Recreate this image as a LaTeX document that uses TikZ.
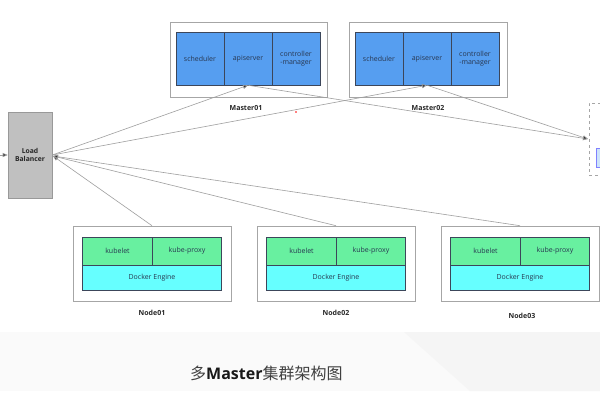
\documentclass[tikz,border=0pt]{standalone}
\usepackage{fontspec}
\setmainfont{Open Sans}
\newfontfamily\cjk{Noto Sans CJK SC}
\usetikzlibrary{arrows.meta}
\definecolor{mblue}{RGB}{86,158,240}
\definecolor{mgreen}{RGB}{104,240,160}
\definecolor{mcyan}{RGB}{102,255,255}
\definecolor{lbgray}{RGB}{192,192,192}
\definecolor{edge}{RGB}{60,70,90}
\definecolor{txt}{RGB}{40,55,80}
\definecolor{lblue}{RGB}{205,228,250}
\tikzset{
  outerbox/.style={draw=gray!70, line width=0.6pt, fill=white, inner sep=0pt},
  cell/.style={draw=edge, line width=0.5pt, inner sep=0pt, align=center, font=\fontsize{7}{8.5}\selectfont, text=txt},
  mcell/.style={cell, fill=mblue, minimum width=48pt, minimum height=53pt},
  kcell/.style={cell, fill=mgreen, minimum height=28pt},
  dcell/.style={cell, fill=mcyan, minimum width=139pt, minimum height=25pt},
  boxlabel/.style={font=\bfseries\fontsize{7}{8}\selectfont, text=black!85},
  conn/.style={draw=gray!75, line width=0.6pt, -{Triangle[length=5pt,width=4pt,fill=black!80]}},
}
\begin{document}
\begin{tikzpicture}[x=1pt,y=-1pt]
\useasboundingbox (0,0) rectangle (600,400);
\path[clip] (0,0) rectangle (600,400);
\fill[white] (0,0) rectangle (600,400);
% bottom band
\fill[gray!4] (0,332) rectangle (600,391);
\fill[gray!8] (404,332) -- (600,332) -- (600,391) -- (470,391) -- cycle;
\node[inner sep=0pt, anchor=west, font=\fontsize{16}{19}\selectfont] (title) at (190,373)
  {{\cjk\color{black!75}多}{\bfseries\color{black!90}Master}{\cjk\color{black!75}集群架构图}};

% Master01
\node[outerbox, minimum width=157pt, minimum height=75pt] (m1) at (248.5,59.5) {};
\node[mcell] (m1s) at (200,58.5) {scheduler};
\node[mcell] (m1a) at (248,58.5) {apiserver};
\node[mcell] (m1c) at (296,58.5) {controller\\-manager};
\node[boxlabel] (m1l) at (246,108) {Master01};

% Master02
\node[outerbox, minimum width=158pt, minimum height=75pt] (m2) at (428,59.5) {};
\node[mcell] (m2s) at (379,58.5) {scheduler};
\node[mcell] (m2a) at (427,58.5) {apiserver};
\node[mcell] (m2c) at (475,58.5) {controller\\-manager};
\node[boxlabel] (m2l) at (428,108) {Master02};

% Load balancer
\node[draw=gray!80, fill=lbgray, line width=0.6pt, minimum width=44pt, minimum height=86pt, align=center,
  font=\bfseries\fontsize{6.8}{8.5}\selectfont, text=black!85] (lb) at (30,155) {Load\\Balancer};
\coordinate (lbin) at (0,155);
\draw[conn] (lbin) -- (lb.west);

% right partial box
\node[draw=gray!70, dashed, line width=0.6pt, minimum width=30pt, minimum height=72pt, inner sep=0pt] (rb) at (604,139) {};
\node[draw=blue!50, fill=lblue, line width=0.5pt, minimum width=20pt, minimum height=19pt, inner sep=0pt] (rbi) at (606,157.5) {};
\coordinate (rbt) at (588,139);

% Nodes
\foreach \i/\x in {1/152, 2/336, 3/520} {
  \node[outerbox, minimum width=158pt, minimum height=75pt] (n\i) at (\x,263.5) {};
  \node[kcell, minimum width=70pt] (n\i k) at (\x-34.5,251) {kubelet};
  \node[kcell, minimum width=69pt] (n\i p) at (\x+35,251) {kube-proxy};
  \node[dcell] (n\i d) at (\x,277.5) {Docker Engine};
}
\node[boxlabel] (n1l) at (152,313) {Node01};
\node[boxlabel] (n2l) at (336,313) {Node02};
\node[boxlabel] (n3l) at (522,316) {Node03};

% connectors
\coordinate (lbe) at (53,156);
\draw[conn] (lb.east) -- (m1a.south);
\draw[conn] (lb.east) -- (m2a.south);
\draw[conn] (m1a.south) -- (rbt);
\draw[conn] (m2a.south) -- (rbt);
\draw[conn] (n1.north) -- (lbe);
\draw[conn] (n2.north) -- (lbe);
\draw[conn] (n3.north) -- (lbe);

% red dot
\fill[red] (296,112) circle (0.9pt);
\end{tikzpicture}
\end{document}
